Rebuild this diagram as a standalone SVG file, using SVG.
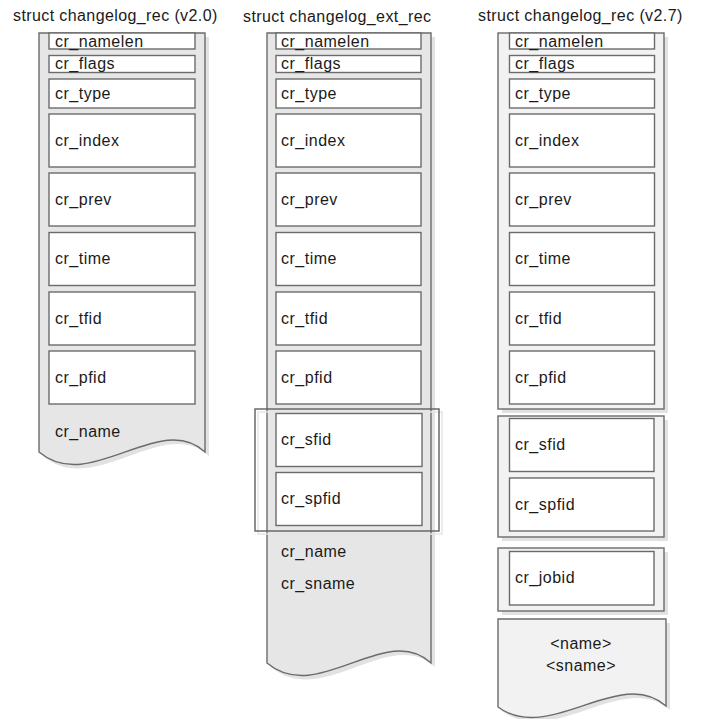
<svg xmlns="http://www.w3.org/2000/svg" width="701" height="719" viewBox="0 0 701 719">
<style>
  text { font-family: "Liberation Sans", Arial, sans-serif; font-size: 16px; fill: #1a1a1a; letter-spacing: 0.5px; }
  .title { font-size: 16px; letter-spacing: 0.4px; }
  .box { fill: #ffffff; stroke: #6b6b6b; stroke-width: 1.4; }
  .c1 { fill: #e6e6e6; stroke: #6b6b6b; stroke-width: 1.4; }
  .c3 { fill: #f2f2f2; stroke: #6b6b6b; stroke-width: 1.4; }
  .shadow { fill: #e2e2e2; stroke: none; }
  .grp { fill: none; stroke: #5f5f5f; stroke-width: 1.4; }
  .grpsh { fill: none; stroke: #e4e4e4; stroke-width: 1.4; }
  .mid { text-anchor: middle; }
</style>

<g id="titles">
  <text class="title" x="13" y="21">struct changelog_rec (v2.0)</text>
  <text class="title" x="243" y="22">struct changelog_ext_rec</text>
  <text class="title" x="478" y="21">struct changelog_rec (v2.7)</text>
</g>

<!-- Column 1 -->
<g id="rec_v20">
  <path class="shadow" d="M43,37 H209 V456 C164,414 94,499 43,456 Z"/>
  <path class="c1" d="M39,33 H205 V452 C160,410 90,495 39,452 Z"/>
  <rect class="box" x="49" y="33" width="146" height="16"/>
  <text x="55" y="47">cr_namelen</text>
  <rect class="box" x="49" y="55.5" width="146" height="17"/>
  <text x="55" y="69">cr_flags</text>
  <rect class="box" x="49" y="79" width="146" height="29"/>
  <text x="55" y="98.5">cr_type</text>
  <rect class="box" x="49" y="114" width="146" height="53"/>
  <text x="55" y="145.5">cr_index</text>
  <rect class="box" x="49" y="173" width="146" height="53"/>
  <text x="55" y="204.5">cr_prev</text>
  <rect class="box" x="49" y="232.5" width="146" height="53"/>
  <text x="55" y="264">cr_time</text>
  <rect class="box" x="49" y="292" width="146" height="53"/>
  <text x="55" y="323.5">cr_tfid</text>
  <rect class="box" x="49" y="351" width="146" height="53"/>
  <text x="55" y="382.5">cr_pfid</text>
  <text x="55" y="437">cr_name</text>
</g>

<!-- Column 2 -->
<g id="ext_rec">
  <path class="shadow" d="M271,37 H435 V667 C390,625 322,710 271,667 Z"/>
  <path class="c1" d="M267,33 H431 V663 C386,621 318,706 267,663 Z"/>
  <rect class="box" x="276" y="33" width="145" height="16"/>
  <text x="281" y="47">cr_namelen</text>
  <rect class="box" x="276" y="55.5" width="145" height="17"/>
  <text x="281" y="69">cr_flags</text>
  <rect class="box" x="276" y="79" width="145" height="29"/>
  <text x="281" y="98.5">cr_type</text>
  <rect class="box" x="276" y="114" width="145" height="53"/>
  <text x="281" y="145.5">cr_index</text>
  <rect class="box" x="276" y="173" width="145" height="53"/>
  <text x="281" y="204.5">cr_prev</text>
  <rect class="box" x="276" y="232.5" width="145" height="53"/>
  <text x="281" y="264">cr_time</text>
  <rect class="box" x="276" y="292" width="145" height="53"/>
  <text x="281" y="323.5">cr_tfid</text>
  <rect class="box" x="276" y="351" width="145" height="53"/>
  <text x="281" y="382.5">cr_pfid</text>
  <rect class="grpsh" x="258" y="412" width="184" height="122"/>
  <rect class="grp" x="255" y="409" width="184" height="122"/>
  <rect class="box" x="276" y="413.5" width="146" height="53"/>
  <text x="281" y="445">cr_sfid</text>
  <rect class="box" x="276" y="472.5" width="146" height="53"/>
  <text x="281" y="504">cr_spfid</text>
  <text x="281" y="557">cr_name</text>
  <text x="281" y="589">cr_sname</text>
</g>

<!-- Column 3 -->
<g id="rec_v27">
  <rect class="shadow" x="502" y="37" width="166" height="376"/>
  <rect class="c3" x="498" y="33" width="166" height="376"/>
  <rect class="box" x="509.5" y="33" width="145" height="16"/>
  <text x="515" y="47">cr_namelen</text>
  <rect class="box" x="509.5" y="55.5" width="145" height="17"/>
  <text x="515" y="69">cr_flags</text>
  <rect class="box" x="509.5" y="79" width="145" height="29"/>
  <text x="515" y="98.5">cr_type</text>
  <rect class="box" x="509.5" y="114" width="145" height="53"/>
  <text x="515" y="145.5">cr_index</text>
  <rect class="box" x="509.5" y="173" width="145" height="53"/>
  <text x="515" y="204.5">cr_prev</text>
  <rect class="box" x="509.5" y="232.5" width="145" height="53"/>
  <text x="515" y="264">cr_time</text>
  <rect class="box" x="509.5" y="292" width="145" height="53"/>
  <text x="515" y="323.5">cr_tfid</text>
  <rect class="box" x="509.5" y="351" width="145" height="53"/>
  <text x="515" y="382.5">cr_pfid</text>
</g>

<g id="rec_v27_ext">
  <rect class="shadow" x="502" y="420" width="166" height="121"/>
  <rect class="c3" x="498" y="416" width="166" height="121"/>
  <rect class="box" x="509.5" y="418.5" width="144.5" height="53"/>
  <text x="515" y="450">cr_sfid</text>
  <rect class="box" x="509.5" y="478" width="144.5" height="53"/>
  <text x="515" y="509.5">cr_spfid</text>
</g>

<g id="rec_v27_jobid">
  <rect class="shadow" x="502" y="552" width="166" height="63"/>
  <rect class="c3" x="498" y="548" width="166" height="63"/>
  <rect class="box" x="509.5" y="551.5" width="144.5" height="53.5"/>
  <text x="515" y="583">cr_jobid</text>
</g>

<g id="rec_v27_names">
  <path class="shadow" d="M502,623 H670 V710 C624,669 553,749 502,711 Z"/>
  <path class="c3" d="M498,619 H666 V706 C620,665 549,745 498,707 Z"/>
  <text class="mid" x="581" y="649">&lt;name&gt;</text>
  <text class="mid" x="581" y="671">&lt;sname&gt;</text>
</g>

<g id="connectors"></g>
</svg>
